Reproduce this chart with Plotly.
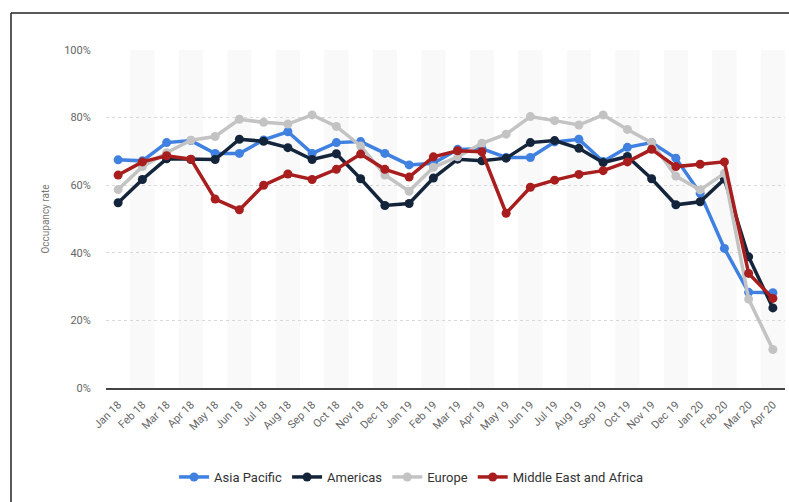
import plotly.graph_objects as go

months = ["Jan 18", "Feb 18", "Mar 18", "Apr 18", "May 18", "Jun 18", "Jul 18", "Aug 18",
          "Sep 18", "Oct 18", "Nov 18", "Dec 18", "Jan 19", "Feb 19", "Mar 19", "Apr 19",
          "May 19", "Jun 19", "Jul 19", "Aug 19", "Sep 19", "Oct 19", "Nov 19", "Dec 19",
          "Jan 20", "Feb 20", "Mar 20", "Apr 20"]

asia_pacific = [67.5, 67.2, 72.6, 73.2, 69.4, 69.4, 73.4, 75.8, 69.4, 72.6, 72.9, 69.4, 66.0, 66.5,
                70.6, 70.8, 68.2, 68.2, 72.8, 73.6, 67.0, 71.2, 72.6, 68.0, 57.6, 41.3, 28.3, 28.2]
americas = [54.8, 61.7, 67.8, 67.6, 67.6, 73.6, 73.0, 71.1, 67.6, 69.3, 61.9, 54.0, 54.6, 62.1,
            67.7, 67.2, 68.0, 72.6, 73.2, 70.9, 66.7, 68.5, 61.9, 54.2, 55.1, 61.8, 38.8, 23.7]
europe = [58.7, 65.5, 69.6, 73.3, 74.4, 79.5, 78.6, 78.1, 80.8, 77.4, 71.6, 63.0, 58.2, 65.3,
          68.4, 72.4, 75.1, 80.3, 79.1, 77.8, 80.8, 76.5, 72.6, 62.7, 58.6, 63.5, 26.3, 11.4]
mea = [63.0, 66.9, 68.7, 67.7, 55.9, 52.7, 60.0, 63.3, 61.7, 64.7, 69.2, 64.7, 62.4, 68.4,
       70.2, 69.9, 51.7, 59.4, 61.5, 63.2, 64.3, 66.9, 70.6, 65.5, 66.2, 66.9, 33.9, 26.5]

series = [
    ("Asia Pacific", asia_pacific, "#3f80e0"),
    ("Americas", americas, "#14253b"),
    ("Europe", europe, "#c3c3c3"),
    ("Middle East and Africa", mea, "#a81d1d"),
]

y_ticks = [0, 20, 40, 60, 80, 100]
y_tick_labels = [f"{v}%" for v in y_ticks]

fig = go.Figure()
for name, vals, color in series:
    fig.add_trace(go.Scatter(
        x=list(range(len(months))), y=vals, name=name, mode="lines+markers",
        line=dict(color=color, width=3.5),
        marker=dict(color=color, size=9),
    ))

shapes = []
for i in range(len(months)):
    if i % 2 == 1:
        shapes.append(dict(type="rect", xref="x", yref="paper", x0=i - 0.5, x1=i + 0.5,
                           y0=0, y1=1, fillcolor="#f9f9f9", line=dict(width=0), layer="below"))

# outer frame (top and left edges of the screenshot)
W, H = 789, 502
ml, mr, mt, mb = 106, 4, 50, 114
pw, ph = W - ml - mr, H - mt - mb
def px(x):
    return (x - ml) / pw
def py(y):
    return (H - mb - y) / ph
shapes.append(dict(type="line", xref="paper", yref="paper", x0=px(11), x1=px(789),
                   y0=py(13), y1=py(13), line=dict(color="#222", width=1.5)))
shapes.append(dict(type="line", xref="paper", yref="paper", x0=px(11), x1=px(11),
                   y0=py(13), y1=py(502), line=dict(color="#222", width=1.5)))

fig.update_layout(
    width=W, height=H,
    margin=dict(l=ml, r=mr, t=mt, b=mb),
    paper_bgcolor="white", plot_bgcolor="white",
    font=dict(family="Roboto", color="#666", size=11),
    shapes=shapes,
    showlegend=True,
    legend=dict(orientation="h", x=0.45, xanchor="center", y=py(477), yanchor="middle",
                font=dict(size=13, color="#333"), itemwidth=30),
    xaxis=dict(
        tickmode="array", tickvals=list(range(len(months))), ticktext=months,
        range=[-0.5, len(months) - 0.5], tickangle=-45, showgrid=False,
        showline=True, linecolor="#444", linewidth=2,
        ticks="outside", ticklen=4, tickcolor="rgba(0,0,0,0)",
        tickfont=dict(size=11, color="#666"), zeroline=False,
    ),
    yaxis=dict(
        range=[0, 100], tickvals=y_ticks, ticktext=y_tick_labels,
        showgrid=True, gridcolor="#d9d9d9", griddash="dot", gridwidth=1,
        zeroline=False, ticks="outside", ticklen=12, tickcolor="rgba(0,0,0,0)",
        tickfont=dict(size=11, color="#666"),
        title=dict(text="Occupancy rate", font=dict(size=10, color="#777"), standoff=12),
    ),
)

fig.write_html("out.html")
